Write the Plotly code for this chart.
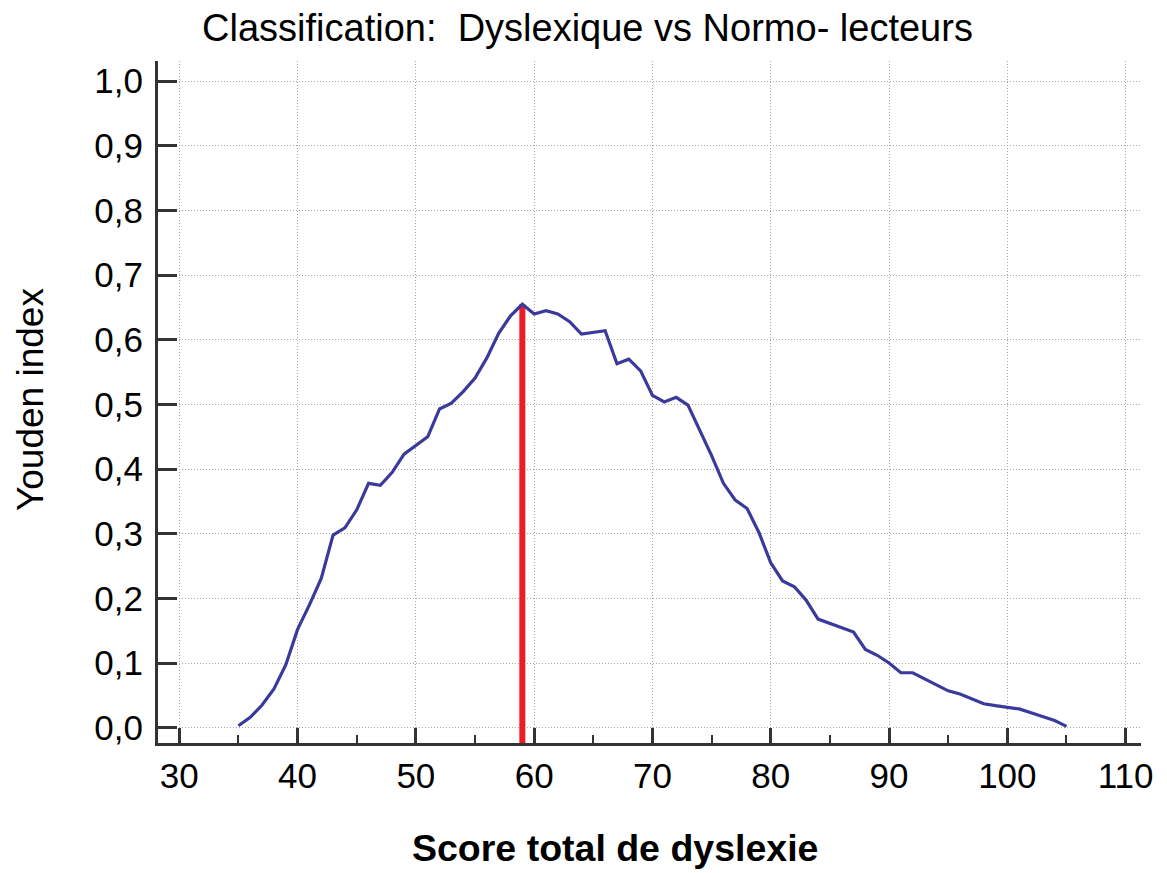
import plotly.graph_objects as go

# Data
score = list(range(35, 106))
youden = [
    0.003, 0.016, 0.035, 0.060, 0.097, 0.152, 0.190, 0.231, 0.298, 0.309,
    0.337, 0.378, 0.375, 0.395, 0.423, 0.436, 0.450, 0.493, 0.502, 0.520,
    0.541, 0.572, 0.610, 0.637, 0.655, 0.640, 0.645, 0.640, 0.628, 0.609,
    0.611, 0.614, 0.563, 0.570, 0.552, 0.514, 0.504, 0.511, 0.499, 0.460,
    0.421, 0.378, 0.352, 0.339, 0.302, 0.255, 0.227, 0.218, 0.197, 0.168,
    0.161, 0.155, 0.148, 0.121, 0.112, 0.100, 0.085, 0.085, 0.076, 0.066,
    0.057, 0.052, 0.045, 0.037, 0.034, 0.032, 0.029, 0.023, 0.017, 0.011,
    0.002,
]
optimal_score = 59
optimal_index = 0.655

x_ticks = [30, 40, 50, 60, 70, 80, 90, 100, 110]
y_ticks = [0.0, 0.1, 0.2, 0.3, 0.4, 0.5, 0.6, 0.7, 0.8, 0.9, 1.0]

title_text = "Classification:\u00a0 Dyslexique vs Normo- lecteurs"
x_title = "Score total de dyslexie"
y_title = "Youden index"

X_RANGE = [28.2, 111.3]
Y_RANGE = [-0.0237, 1.0313]

FONT = "Arial, 'Liberation Sans', sans-serif"
GRID = "#a8a8a8"
AXIS = "#333333"

# page body has an 8px margin; the figure is sized to fill the rest
W, H = 1159, 865
ML, MR, MT, MB = 150, 26, 53, 130
PW, PH = W - ML - MR, H - MT - MB

fig = go.Figure()

fig.add_trace(go.Scatter(
    x=[optimal_score, optimal_score], y=[Y_RANGE[0], optimal_index],
    mode="lines", line=dict(color="#ee1c25", width=6),
    showlegend=False, hoverinfo="skip", cliponaxis=False,
))
fig.add_trace(go.Scatter(
    x=score, y=youden, mode="lines",
    line=dict(color="#3a3a9c", width=3.2),
    showlegend=False,
))

fig.update_layout(
    template="none",
    width=W, height=H,
    margin=dict(l=ML, r=MR, t=MT, b=MB, autoexpand=False),
    paper_bgcolor="white", plot_bgcolor="white",
    separators=", ",
    font=dict(family=FONT, color="#000000"),
    title=dict(text=title_text, x=(587.5 - 8) / W, xref="container",
               xanchor="center", y=1 - (28 - 8) / H, yref="container",
               yanchor="middle", automargin=False,
               font=dict(size=38, family=FONT, color="#000000")),
    xaxis=dict(
        range=X_RANGE, tickvals=x_ticks, ticks="inside", ticklen=15, tickwidth=3,
        tickcolor=AXIS, showline=True, linecolor=AXIS, linewidth=3,
        showgrid=True, gridcolor=GRID, griddash="1px,2px", gridwidth=1,
        zeroline=False, automargin=False,
        tickfont=dict(size=35, family=FONT, color="#000000"),
        ticklabelstandoff=0,
        minor=dict(dtick=5, tick0=35, ticks="inside", ticklen=8, tickwidth=2,
                   tickcolor=AXIS, showgrid=False),
    ),
    yaxis=dict(
        range=Y_RANGE, tickvals=y_ticks, tickformat=".1f", ticks="inside",
        ticklen=19, tickwidth=3, tickcolor=AXIS, showline=True,
        linecolor=AXIS, linewidth=3, showgrid=True, gridcolor=GRID,
        griddash="1px,2px", gridwidth=1, zeroline=False, automargin=False,
        tickfont=dict(size=35, family=FONT, color="#000000"),
        ticklabelstandoff=5,
    ),
    annotations=[
        dict(text="<b>" + x_title + "</b>", xref="paper", yref="paper",
             x=(615 - 8 - ML) / PW, y=(743 - 848) / PH, xanchor="center",
             yanchor="middle", showarrow=False,
             font=dict(size=37.5, family=FONT, color="#000000")),
        dict(text=y_title, xref="paper", yref="paper",
             x=(30 - 8 - ML) / PW, y=(743 - 400) / PH, xanchor="center",
             yanchor="middle", showarrow=False, textangle=-90,
             font=dict(size=37, family=FONT, color="#000000")),
    ],
)

fig.write_html("out.html")
